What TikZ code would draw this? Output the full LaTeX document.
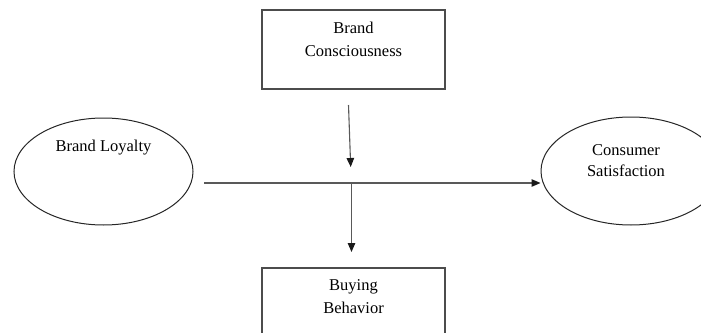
\documentclass[tikz,border=0pt]{standalone}
\usepackage{fontspec}
\setmainfont{Liberation Serif}
\usetikzlibrary{shapes.geometric,arrows.meta}
\begin{document}
\begin{tikzpicture}[x=1pt,y=-1pt,
  conn/.style={draw=black!65, line width=1.1pt},
  arr/.style={conn, -{Triangle[length=9pt,width=7.5pt,color=black!90]}},
  oval/.style={ellipse, draw=black!85, line width=1pt, inner sep=0pt},
  boxnode/.style={rectangle, draw=black!70, line width=1.2pt, inner sep=0pt, minimum width=183pt, minimum height=79pt},
  lbl/.style={font=\fontsize{16.5}{23}\selectfont, align=center, inner sep=0pt}]
\useasboundingbox (0,0) rectangle (701,332);
\clip (0,0) rectangle (701,332);
% nodes
\node[boxnode] (bc) at (353.5,49.5) {};
\node[lbl] (bct) at (353.5,39) {Brand\\Consciousness};
\node[oval, minimum width=179pt, minimum height=107pt] (bl) at (103.5,171.5) {};
\node[lbl] (blt) at (103.5,148) {Brand Loyalty};
\node[oval, minimum width=180pt, minimum height=108pt] (cs) at (631,171) {};
\node[lbl, font=\fontsize{16.5}{21}\selectfont] (cst) at (626,160.5) {Consumer\\Satisfaction};
\node[boxnode] (bb) at (353.5,307.5) {};
\node[lbl] (bbt) at (353.5,296.5) {Buying\\Behavior};
% connectors
\coordinate (m1) at (348.5,105);
\coordinate (m2) at (350.7,167);
\coordinate (h1) at (204,183);
\coordinate (j) at (351.5,183);
\coordinate (d2) at (351.5,252);
\draw[arr] (m1) -- (m2);
\draw[arr] (h1) -- (cs.west |- h1);
\draw[arr] (j) -- (d2);
\end{tikzpicture}
\end{document}
